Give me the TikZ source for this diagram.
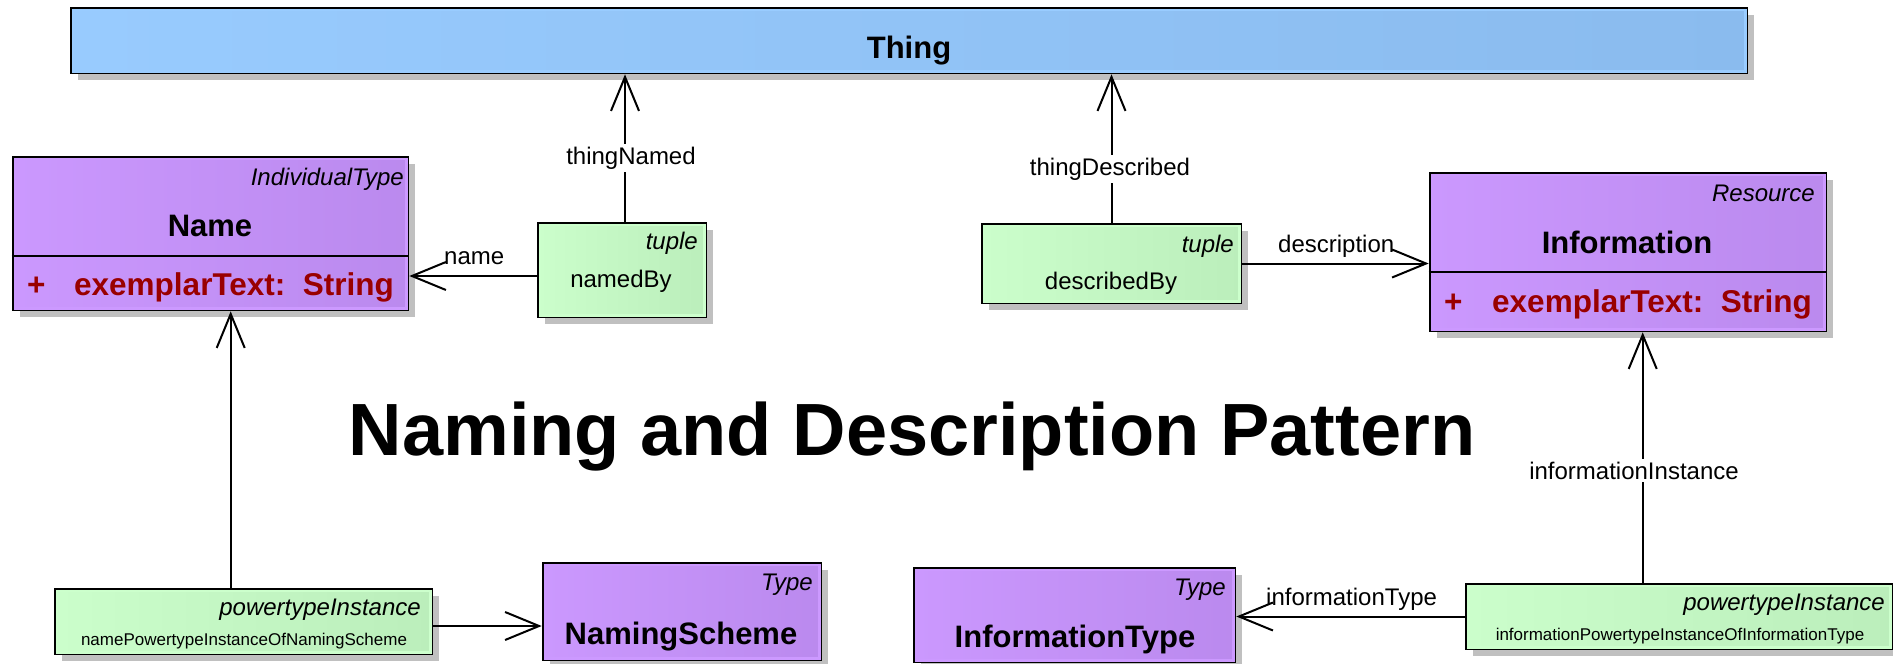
\documentclass[tikz,border=0pt]{standalone}
\usepackage{fontspec}
\setmainfont{Liberation Sans}
\usetikzlibrary{arrows.meta,shadows,calc}
\definecolor{blueL}{HTML}{99CCFF}
\definecolor{blueD}{HTML}{83B3E6}
\definecolor{purpleL}{HTML}{CC99FF}
\definecolor{purpleD}{HTML}{B282E6}
\definecolor{greenL}{HTML}{CCFFCC}
\definecolor{greenD}{HTML}{B3E6B3}
\definecolor{shadowgray}{HTML}{C0C0C0}
\definecolor{attrred}{HTML}{990000}
\pgfdeclarehorizontalshading{blueShade}{100bp}{color(0bp)=(blueL); color(22bp)=(blueL); color(100bp)=(blueD)}
\pgfdeclarehorizontalshading{purpleShade}{100bp}{color(0bp)=(purpleL); color(22bp)=(purpleL); color(100bp)=(purpleD)}
\pgfdeclarehorizontalshading{greenShade}{100bp}{color(0bp)=(greenL); color(22bp)=(greenL); color(100bp)=(greenD)}
\tikzset{
  box/.style={draw=black, line width=2.6pt, rectangle, inner sep=0pt,
    drop shadow={shadow xshift=7pt, shadow yshift=-7pt, fill=shadowgray, opacity=1}},
  lbl/.style={font=\fontsize{24}{28}\selectfont, inner sep=0pt},
  onlbl/.style={font=\fontsize{24}{28}\selectfont, fill=white, inner sep=3pt, anchor=base},
  stereo/.style={font=\fontsize{24}{28}\selectfont\itshape, inner sep=0pt, anchor=base east},
  cname/.style={font=\fontsize{31}{36}\selectfont\bfseries, inner sep=0pt, anchor=base},
  attr/.style={font=\fontsize{31.5}{36}\selectfont\bfseries, text=attrred, inner sep=0pt, anchor=base west},
  smalltext/.style={font=\fontsize{17}{20}\selectfont, inner sep=0pt, anchor=base},
  assoc/.style={line width=2pt, -{Straight Barb[length=34pt,width=28pt]}},
}
\newcommand{\umlbox}[7]{%
  \node[box, shading=#7,
        minimum width={(#4-#2)*1pt}, minimum height={(#5-#3)*1pt}]
        (#1) at ({(#2+#4)/2},{(#3+#5)/2}) {};
  \draw[#6, line width=2.4pt] ([shift={(3,3)}]#1.north west) rectangle ([shift={(-3,-3)}]#1.south east);
}
\begin{document}
\begin{tikzpicture}[x=1pt,y=-1pt]
\useasboundingbox (0,0) rectangle (1893,664);
\fill[white] (0,0) rectangle (1893,664);

% boxes
\umlbox{Thing}{71}{8}{1747}{73}{blueL}{blueShade}
\umlbox{Name}{13}{157}{408}{310}{purpleL}{purpleShade}
\umlbox{namedBy}{538}{223}{706}{317}{greenL}{greenShade}
\umlbox{describedBy}{982}{224}{1241}{303}{greenL}{greenShade}
\umlbox{Information}{1430}{173}{1826}{331}{purpleL}{purpleShade}
\umlbox{ptOne}{55}{589}{432}{654}{greenL}{greenShade}
\umlbox{NS}{543}{563}{821}{660}{purpleL}{purpleShade}
\umlbox{IT}{914}{568}{1235}{662}{purpleL}{purpleShade}
\umlbox{ptTwo}{1466}{584}{1892}{649}{greenL}{greenShade}

% compartment dividers
\draw[line width=2.4pt] ($(Name.north west)+(0,100)$) -- ($(Name.north east)+(0,100)$);
\draw[line width=2.4pt] ($(Information.north west)+(0,100)$) -- ($(Information.north east)+(0,100)$);

% texts in boxes
\node[cname] (tThing) at (909,58) {Thing};

\node[stereo] (sName) at (404,185) {IndividualType};
\node[cname] (tName) at (210,236) {Name};
\node[attr] (pName) at (27,295) {+};
\node[attr] (aName) at (74,295) {exemplarText:\ \ String};

\node[stereo] (sNamedBy) at (698,249) {tuple};
\node[lbl, anchor=base] (tNamedBy) at (621,287) {namedBy};

\node[stereo] (sDescribedBy) at (1234,252) {tuple};
\node[lbl, anchor=base] (tDescribedBy) at (1111,289) {describedBy};

\node[stereo] (sInfo) at (1815,201) {Resource};
\node[cname] (tInfo) at (1627,253) {Information};
\node[attr] (pInfo) at (1444,312) {+};
\node[attr] (aInfo) at (1492,312) {exemplarText:\ \ String};

\node[stereo] (sPtOne) at (421,615) {powertypeInstance};
\node[smalltext] (tPtOne) at (244,645) {namePowertypeInstanceOfNamingScheme};

\node[stereo] (sNS) at (813,590) {Type};
\node[cname] (tNS) at (681,644) {NamingScheme};

\node[stereo] (sIT) at (1226,595) {Type};
\node[cname] (tIT) at (1075,647) {InformationType};

\node[stereo] (sPtTwo) at (1885,610) {powertypeInstance};
\node[smalltext] (tPtTwo) at (1680,640) {informationPowertypeInstanceOfInformationType};

% title
\node[font=\fontsize{74}{80}\selectfont\bfseries, anchor=base, inner sep=0pt] (title) at (912,455) {Naming and Description Pattern};

% connectors
\coordinate (tnStart) at ($(namedBy.north)+(3,0)$);
\draw[assoc] (tnStart) -- (tnStart |- Thing.south);
\draw[assoc] (describedBy.north) -- (describedBy.north |- Thing.south);
\coordinate (nmStart) at ($(namedBy.west)+(0,6)$);
\draw[assoc] (nmStart) -- (nmStart -| Name.east);
\draw[assoc] (describedBy.east) -- (describedBy.east -| Information.west);
\coordinate (nuStart) at ($(ptOne.north west)+(177,0)$);
\draw[assoc] (nuStart) -- (nuStart |- Name.south);
\coordinate (nsStart) at ($(ptOne.east)+(0,4.5)$);
\draw[assoc] (nsStart) -- (nsStart -| NS.west);
\draw[assoc] (ptTwo.west) -- (ptTwo.west -| IT.east);
\coordinate (iiStart) at ($(ptTwo.north west)+(178,0)$);
\draw[assoc] (iiStart) -- (iiStart |- Information.south);

% connector labels
\node[onlbl] (lThingNamed) at (631,164) {thingNamed};
\node[onlbl] (lThingDescribed) at (1110,175) {thingDescribed};
\node[onlbl] (lInfoInstance) at (1634,479) {informationInstance};
\node[lbl, anchor=base west] (lName) at (444,264) {name};
\node[lbl, anchor=base west] (lDescription) at (1278,252) {description};
\node[lbl, anchor=base west] (lInfoType) at (1266,605) {informationType};
\end{tikzpicture}
\end{document}
